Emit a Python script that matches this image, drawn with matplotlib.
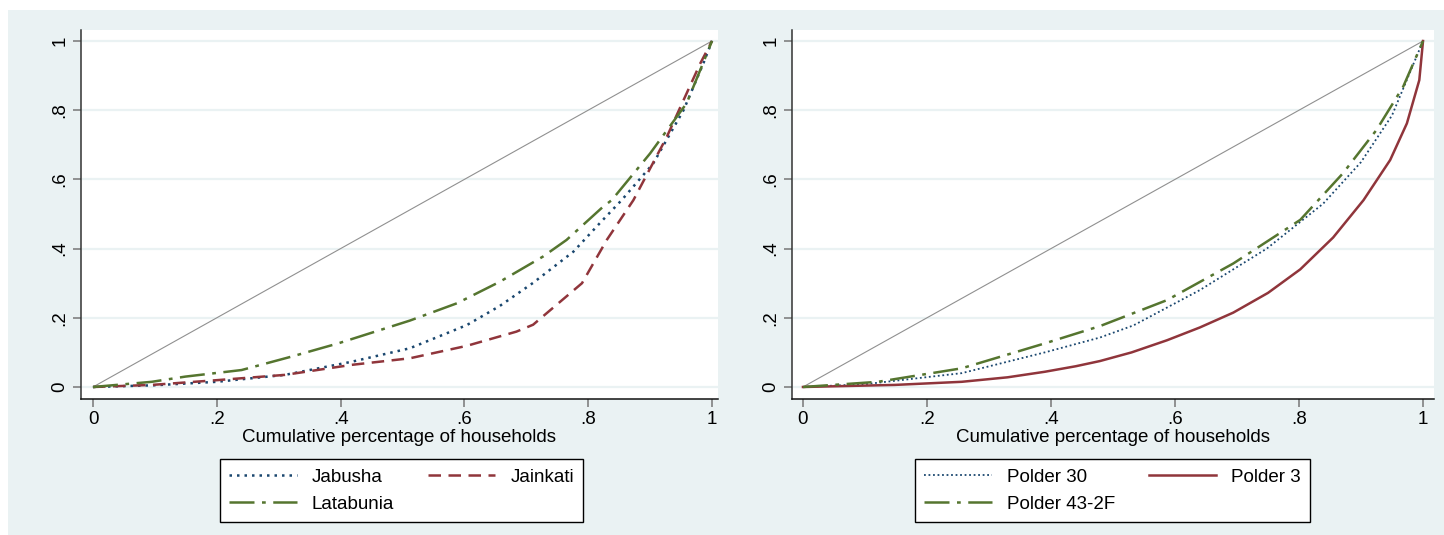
import numpy as np
import matplotlib
matplotlib.use("Agg")
import matplotlib.pyplot as plt
from matplotlib.patches import Rectangle

plt.rcParams['font.family'] = ['Liberation Sans', 'DejaVu Sans']

# ============ Data ============
# left panel: villages
jabusha_x = [0, 0.1, 0.2, 0.31, 0.418, 0.512, 0.604, 0.657, 0.711, 0.776, 0.819, 0.854, 0.905, 0.954, 0.986, 1]
jabusha_y = [0, 0.005, 0.015, 0.035, 0.073, 0.112, 0.179, 0.234, 0.301, 0.391, 0.474, 0.54, 0.646, 0.80, 0.935, 1]

jainkati_x = [0, 0.095, 0.202, 0.31, 0.418, 0.512, 0.604, 0.684, 0.711, 0.79, 0.83, 0.873, 0.927, 0.954, 0.981, 1]
jainkati_y = [0, 0.006, 0.020, 0.035, 0.064, 0.083, 0.119, 0.160, 0.180, 0.300, 0.425, 0.54, 0.723, 0.829, 0.935, 1]

latabunia_x = [0, 0.095, 0.149, 0.24, 0.321, 0.396, 0.512, 0.588, 0.657, 0.727, 0.765, 0.824, 0.838, 0.9, 0.959, 0.981, 1]
latabunia_y = [0, 0.015, 0.030, 0.049, 0.088, 0.126, 0.192, 0.242, 0.304, 0.377, 0.425, 0.521, 0.54, 0.675, 0.82, 0.916, 1]

# right panel: polders
p30_x = [0, 0.1, 0.256, 0.39, 0.479, 0.533, 0.64, 0.748, 0.839, 0.9, 0.95, 1]
p30_y = [0, 0.008, 0.040, 0.100, 0.143, 0.178, 0.280, 0.400, 0.530, 0.650, 0.785, 1]

p3_x = [0, 0.148, 0.256, 0.33, 0.39, 0.44, 0.479, 0.53, 0.587, 0.64, 0.694, 0.75, 0.802, 0.855, 0.904, 0.947, 0.974, 0.994, 1]
p3_y = [0, 0.006, 0.015, 0.028, 0.044, 0.060, 0.075, 0.100, 0.135, 0.172, 0.215, 0.272, 0.340, 0.432, 0.540, 0.656, 0.762, 0.887, 1]

p43_x = [0, 0.121, 0.256, 0.39, 0.479, 0.587, 0.694, 0.802, 0.871, 0.925, 0.968, 1]
p43_y = [0, 0.015, 0.054, 0.126, 0.176, 0.251, 0.357, 0.483, 0.618, 0.743, 0.868, 1]

ticks = [0, 0.2, 0.4, 0.6, 0.8, 1]
tick_labels = ['0', '.2', '.4', '.6', '.8', '1']
xlabel = 'Cumulative percentage of households'

# ============ Style ============
BG = '#eaf2f3'
NAVY = '#1a476f'
MAROON = '#90353b'
GREEN = '#55752f'
FS = 13.5

fig = plt.figure(figsize=(14.44, 5.35), dpi=100)
fig.patches.append(Rectangle((8 / 1444, 0), 1, 1 - 10 / 535, transform=fig.transFigure,
                             facecolor=BG, edgecolor='none', zorder=-10))

ax1 = fig.add_axes([81 / 1444, 1 - 399 / 535, 637 / 1444, 369 / 535])
ax2 = fig.add_axes([792 / 1444, 1 - 399 / 535, 642 / 1444, 369 / 535])


def style(ax, xlim):
    ax.set_xlim(*xlim)
    ax.set_ylim(-0.0347, 1.0318)
    ax.set_facecolor('white')
    for s in ('top', 'right'):
        ax.spines[s].set_visible(False)
    ax.spines['left'].set_color('#333333')
    ax.spines['bottom'].set_color('#111111')
    ax.spines['left'].set_linewidth(1.1)
    ax.spines['bottom'].set_linewidth(1.1)
    ax.set_xticks(ticks)
    ax.set_xticklabels(tick_labels)
    ax.set_yticks(ticks)
    ax.set_yticklabels(tick_labels, rotation=90, va='center')
    ax.tick_params(axis='both', length=6, width=1.1, color='#777777',
                   labelsize=FS, pad=3)
    for y in ticks:
        ax.axhline(y, color=BG, lw=1.6, zorder=0)
    ax.plot([0, 1], [0, 1], color='#909090', lw=0.8, zorder=1)
    ax.set_xlabel(xlabel, fontsize=FS, labelpad=0)


style(ax1, (-0.0194, 1.0097))
style(ax2, (-0.0177, 1.0177))

# ---- left panel ----
l1, = ax1.plot(jabusha_x, jabusha_y, color=NAVY, lw=1.8, ls=(0, (1, 2)), label='Jabusha')
l2, = ax1.plot(jainkati_x, jainkati_y, color=MAROON, lw=1.8, ls=(0, (5, 3)), label='Jainkati')
l3, = ax1.plot(latabunia_x, latabunia_y, color=GREEN, lw=1.8, ls=(0, (10, 3, 1.5, 3)), label='Latabunia')

# ---- right panel ----
r1, = ax2.plot(p30_x, p30_y, color=NAVY, lw=1.3, ls=(0, (1, 1.5)), label='Polder 30')
r2, = ax2.plot(p3_x, p3_y, color=MAROON, lw=1.8, ls='-', label='Polder 3')
r3, = ax2.plot(p43_x, p43_y, color=GREEN, lw=1.8, ls=(0, (10, 3, 1.5, 3)), label='Polder 43-2F')

# legends (matplotlib fills column-wise, so reorder for row-wise look)
for ax, hs, cx in ((ax1, [l1, l3, l2], 401.5), (ax2, [r1, r3, r2], 1112.5)):
    leg = ax.legend(handles=hs, ncol=2, loc='upper center',
                    bbox_to_anchor=(cx / 1444, 1 - 459 / 535),
                    bbox_transform=fig.transFigure, fontsize=FS,
                    frameon=True, fancybox=False, framealpha=1,
                    handlelength=3.6, handletextpad=0.8, columnspacing=1.8,
                    borderpad=0.5, labelspacing=0.55, borderaxespad=0)
    leg.get_frame().set_edgecolor('black')
    leg.get_frame().set_linewidth(1.0)

fig.savefig('out.png', dpi=100, facecolor='white')
